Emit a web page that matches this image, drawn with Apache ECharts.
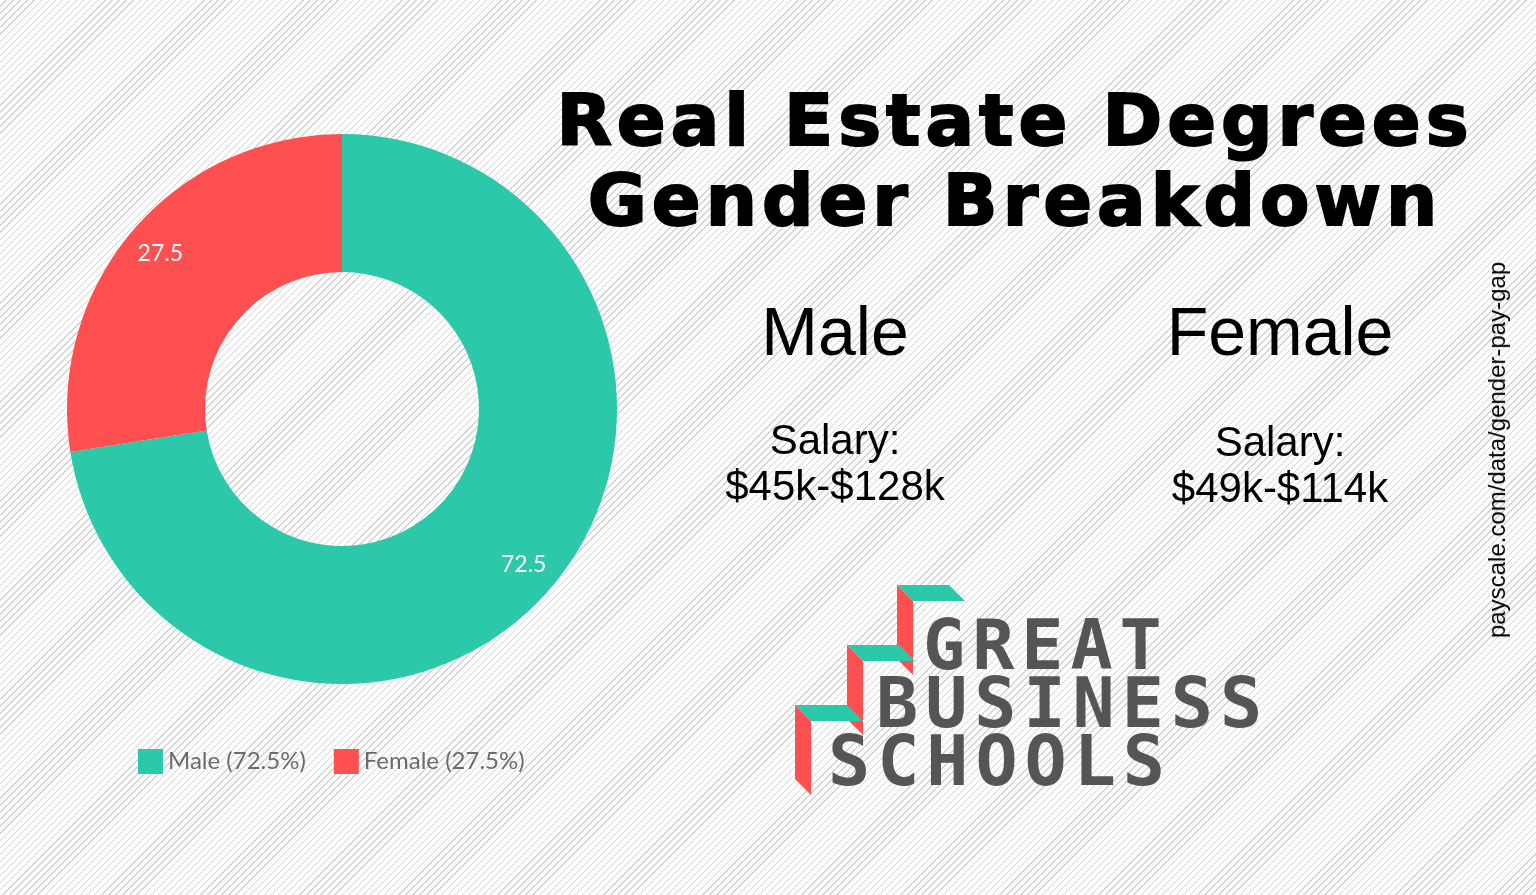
<!DOCTYPE html>
<html>
<head>
<meta charset="utf-8">
<script src="https://cdn.jsdelivr.net/npm/echarts@6/dist/echarts.min.js"></script>
<style>
  html, body { margin: 0; padding: 0; }
  body {
    width: 1536px; height: 895px; position: relative; overflow: hidden;
    background: #fff repeating-linear-gradient(135deg, #fff 0, #fff 4px, #d3d3d3 4px, #d3d3d3 5px);
  }
  #chart { position: absolute; left: 0; top: 0; width: 1536px; height: 895px; }
  .t { position: absolute; white-space: nowrap; color: #000; }
  .title { font-family: "DejaVu Sans", sans-serif; font-weight: 900; font-size: 72px; letter-spacing: 5px; left: 1015px; transform: translateX(-50%); -webkit-text-stroke: 2px #000; }
  .head { font-family: "Liberation Sans", sans-serif; font-size: 68px; transform: translateX(-50%); }
  .sal { font-family: "Liberation Sans", sans-serif; font-size: 42px; text-align: center; line-height: 46px; transform: translateX(-50%); }
  .logo { font-family: "DejaVu Sans Mono", monospace; font-weight: bold; font-size: 70px; color: #555558; letter-spacing: 7px; line-height: 1; }
  .src { font-family: "Liberation Sans", sans-serif; font-size: 24px; left: 1497px; top: 450px; transform: translate(-50%, -50%) rotate(-90deg); }
</style>
</head>
<body>
<div id="chart"></div>
<div class="t title" style="top:78px">Real Estate Degrees</div>
<div class="t title" style="top:158px">Gender Breakdown</div>
<div class="t head" style="left:835px;top:292px">Male</div>
<div class="t head" style="left:1280px;top:292px">Female</div>
<div class="t sal" style="left:835px;top:417px">Salary:<br>$45k-$128k</div>
<div class="t sal" style="left:1280px;top:419px">Salary:<br>$49k-$114k</div>
<div class="t logo" style="left:923px;top:610px">GREAT</div>
<div class="t logo" style="left:876px;top:668px">BUSINESS</div>
<div class="t logo" style="left:828px;top:726px">SCHOOLS</div>
<div class="t src">payscale.com/data/gender-pay-gap</div>
<script>
'use strict';
const categories = ['Male', 'Female'];
const values = [72.5, 27.5];
const colors = ['#2bc8a9', '#fe5050'];

const chart = echarts.init(document.getElementById('chart'));

// logo stairs: teal tops, red risers
function step(x, y) {
  return [
    { type: 'polygon', shape: { points: [[x, y], [x + 52, y], [x + 68, y + 16], [x + 16, y + 16]] }, style: { fill: '#2bc8a9' } },
    { type: 'polygon', shape: { points: [[x, y], [x + 16, y + 16], [x + 16, y + 90], [x, y + 74]] }, style: { fill: '#fe5050' } }
  ];
}

const pieData = categories.map((c, i) => ({ name: c, value: values[i] }));

chart.setOption({
  color: colors,
  legend: {
    left: 133, top: 744, orient: 'horizontal',
    data: categories,
    itemWidth: 25, itemHeight: 25, itemGap: 28, icon: 'rect',
    textStyle: { fontFamily: 'Lato', fontSize: 24, color: '#6b6b6b' },
    formatter: (name) => name + ' (' + values[categories.indexOf(name)] + '%)'
  },
  graphic: [].concat(step(897, 585), step(847, 645), step(795, 705)),
  series: [{
    type: 'pie',
    center: [342, 409],
    radius: [137, 275],
    startAngle: 90,
    silent: true,
    label: { show: false },
    data: pieData
  }, {
    // transparent ring only to place the value labels
    type: 'pie',
    center: [342, 409],
    radius: [197, 275],
    startAngle: 90,
    silent: true,
    itemStyle: { color: 'transparent' },
    label: { show: true, position: 'inside', color: '#fff', fontFamily: 'Lato', fontSize: 23, formatter: '{c}' },
    labelLine: { show: false },
    data: pieData
  }]
});
</script>
</body>
</html>
